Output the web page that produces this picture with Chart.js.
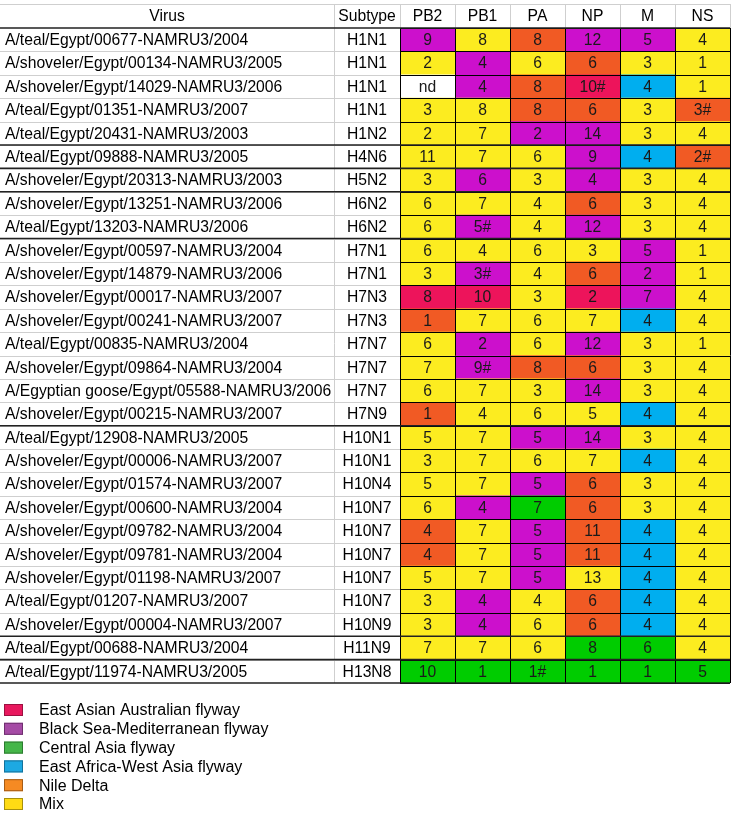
<!DOCTYPE html>
<html>
<head>
<meta charset="utf-8">
<script src="https://cdn.jsdelivr.net/npm/chart.js@4.4.0/dist/chart.umd.min.js"></script>
<style>
  html, body { margin: 0; padding: 0; background: #fff; }
  #wrap { width: 735px; height: 814px; }
</style>
</head>
<body>
<div id="wrap"><canvas id="flyways" width="735" height="814"></canvas></div>
<script>
// Gene segment origins of Egyptian wild bird influenza viruses

const viruses = [
  "A/teal/Egypt/00677-NAMRU3/2004",
  "A/shoveler/Egypt/00134-NAMRU3/2005",
  "A/shoveler/Egypt/14029-NAMRU3/2006",
  "A/teal/Egypt/01351-NAMRU3/2007",
  "A/teal/Egypt/20431-NAMRU3/2003",
  "A/teal/Egypt/09888-NAMRU3/2005",
  "A/shoveler/Egypt/20313-NAMRU3/2003",
  "A/shoveler/Egypt/13251-NAMRU3/2006",
  "A/teal/Egypt/13203-NAMRU3/2006",
  "A/shoveler/Egypt/00597-NAMRU3/2004",
  "A/shoveler/Egypt/14879-NAMRU3/2006",
  "A/shoveler/Egypt/00017-NAMRU3/2007",
  "A/shoveler/Egypt/00241-NAMRU3/2007",
  "A/teal/Egypt/00835-NAMRU3/2004",
  "A/shoveler/Egypt/09864-NAMRU3/2004",
  "A/Egyptian goose/Egypt/05588-NAMRU3/2006",
  "A/shoveler/Egypt/00215-NAMRU3/2007",
  "A/teal/Egypt/12908-NAMRU3/2005",
  "A/shoveler/Egypt/00006-NAMRU3/2007",
  "A/shoveler/Egypt/01574-NAMRU3/2007",
  "A/shoveler/Egypt/00600-NAMRU3/2004",
  "A/shoveler/Egypt/09782-NAMRU3/2004",
  "A/shoveler/Egypt/09781-NAMRU3/2004",
  "A/shoveler/Egypt/01198-NAMRU3/2007",
  "A/teal/Egypt/01207-NAMRU3/2007",
  "A/shoveler/Egypt/00004-NAMRU3/2007",
  "A/teal/Egypt/00688-NAMRU3/2004",
  "A/teal/Egypt/11974-NAMRU3/2005"
];

const subtypes = [
  "H1N1", "H1N1", "H1N1", "H1N1", "H1N2", "H4N6", "H5N2", "H6N2", "H6N2", "H7N1",
  "H7N1", "H7N3", "H7N3", "H7N7", "H7N7", "H7N7", "H7N9", "H10N1", "H10N1", "H10N4",
  "H10N7", "H10N7", "H10N7", "H10N7", "H10N7", "H10N9", "H11N9", "H13N8"
];

const segments = ["PB2", "PB1", "PA", "NP", "M", "NS"];

// cell labels (clade numbers) per segment
const pb2Text = ["9","2","nd","3","2","11","3","6","6","6","3","8","1","6","7","6","1","5","3","5","6","4","4","5","3","3","7","10"];
const pb1Text = ["8","4","4","8","7","7","6","7","5#","4","3#","10","7","2","9#","7","4","7","7","7","4","7","7","7","4","4","7","1"];
const paText  = ["8","6","8","8","2","6","3","4","4","6","4","3","6","6","8","3","6","5","6","5","7","5","5","5","4","6","6","1#"];
const npText  = ["12","6","10#","6","14","9","4","6","12","3","6","2","7","12","6","14","5","14","7","6","6","11","11","13","6","6","8","1"];
const mText   = ["5","3","4","3","3","4","3","3","3","5","2","7","4","3","3","3","4","3","4","3","3","4","4","4","4","4","6","1"];
const nsText  = ["4","1","1","3#","4","2#","4","4","4","1","1","4","4","1","4","4","4","4","4","4","4","4","4","4","4","4","4","5"];

// origin per cell: EAA east asian australian, BSM black sea-mediterranean,
// CA central asia, EAWA east africa-west asia, ND nile delta, MIX mix, NA not determined
const pb2Origin = ["BSM","MIX","NA","MIX","MIX","MIX","MIX","MIX","MIX","MIX","MIX","EAA","ND","MIX","MIX","MIX","ND","MIX","MIX","MIX","MIX","ND","ND","MIX","MIX","MIX","MIX","CA"];
const pb1Origin = ["MIX","BSM","BSM","MIX","MIX","MIX","BSM","MIX","BSM","MIX","BSM","EAA","MIX","BSM","BSM","MIX","MIX","MIX","MIX","MIX","BSM","MIX","MIX","MIX","BSM","BSM","MIX","CA"];
const paOrigin  = ["ND","MIX","ND","ND","BSM","MIX","MIX","MIX","MIX","MIX","MIX","MIX","MIX","MIX","ND","MIX","MIX","BSM","MIX","BSM","CA","BSM","BSM","BSM","MIX","MIX","MIX","CA"];
const npOrigin  = ["BSM","ND","EAA","ND","BSM","BSM","BSM","ND","BSM","MIX","ND","EAA","MIX","BSM","ND","BSM","MIX","BSM","MIX","ND","ND","ND","ND","MIX","ND","ND","CA","CA"];
const mOrigin   = ["BSM","MIX","EAWA","MIX","MIX","EAWA","MIX","MIX","MIX","BSM","BSM","BSM","EAWA","MIX","MIX","MIX","EAWA","MIX","EAWA","MIX","MIX","EAWA","EAWA","EAWA","EAWA","EAWA","CA","CA"];
const nsOrigin  = ["MIX","MIX","MIX","ND","MIX","ND","MIX","MIX","MIX","MIX","MIX","MIX","MIX","MIX","MIX","MIX","MIX","MIX","MIX","MIX","MIX","MIX","MIX","MIX","MIX","MIX","MIX","CA"];

const legendCodes = ["EAA", "BSM", "CA", "EAWA", "ND", "MIX"];
const legendLabels = [
  "East Asian Australian flyway",
  "Black Sea-Mediterranean flyway",
  "Central Asia flyway",
  "East Africa-West Asia flyway",
  "Nile Delta",
  "Mix"
];

const cellColors = {
  EAA: "#ED145B", BSM: "#CC10CC", CA: "#00CC00",
  EAWA: "#00AEEF", ND: "#F15A24", MIX: "#FCEC20", NA: "#FFFFFF"
};
const legendColors = {
  EAA: "#E8185E", BSM: "#A54BA5", CA: "#45B649",
  EAWA: "#1DA9E2", ND: "#F58A23", MIX: "#FFDB14"
};
const legendBorders = {
  EAA: "#9c1040", BSM: "#6e2f6e", CA: "#2d7a30",
  EAWA: "#14719a", ND: "#a65c16", MIX: "#a8900c"
};

const segText = [pb2Text, pb1Text, paText, npText, mText, nsText];
const segOrigin = [pb2Origin, pb1Origin, paOrigin, npOrigin, mOrigin, nsOrigin];

const FONT = '15.7px "Liberation Sans", Arial, sans-serif';
const LEGEND_FONT = '16px "Liberation Sans", Arial, sans-serif';
const TEXT_COL_SPLIT = 334;
const TABLE_TOP = 4;

// draws header, text columns, grid lines, cell labels and the legend
const tableDecor = {
  id: "tableDecor",
  afterDatasetsDraw(chart) {
    const ctx = chart.ctx;
    const area = chart.chartArea;
    const xs = chart.scales.x;
    const ys = chart.scales.y;
    const n = viruses.length;
    const rowH = (area.bottom - area.top) / n;
    const rowTop = (i) => area.top + i * rowH;

    ctx.save();
    ctx.font = FONT;
    ctx.textBaseline = "middle";

    // light grid for header and text columns
    ctx.strokeStyle = "#cfcfcf";
    ctx.lineWidth = 1;
    ctx.beginPath();
    ctx.moveTo(0, TABLE_TOP + 0.5);
    ctx.lineTo(area.right, TABLE_TOP + 0.5);
    for (let i = 1; i < n; i++) {
      const yy = Math.round(rowTop(i)) + 0.5;
      ctx.moveTo(0, yy);
      ctx.lineTo(area.left, yy);
    }
    ctx.moveTo(TEXT_COL_SPLIT + 0.5, TABLE_TOP);
    ctx.lineTo(TEXT_COL_SPLIT + 0.5, area.bottom);
    for (let k = 0; k <= segments.length; k++) {
      const xx = Math.round(xs.getPixelForValue(k)) + 0.5;
      ctx.moveTo(xx, TABLE_TOP);
      ctx.lineTo(xx, area.top);
    }
    ctx.stroke();

    // black grid over coloured cells
    ctx.strokeStyle = "#000";
    ctx.beginPath();
    for (let i = 0; i <= n; i++) {
      const yy = Math.round(rowTop(i)) + 0.5;
      ctx.moveTo(area.left, yy);
      ctx.lineTo(area.right, yy);
    }
    for (let k = 0; k <= segments.length; k++) {
      const xx = Math.round(xs.getPixelForValue(k)) + 0.5;
      ctx.moveTo(xx, area.top);
      ctx.lineTo(xx, area.bottom);
    }
    ctx.stroke();

    // dark lines: under header, between HA groups, table bottom
    ctx.strokeStyle = "#222";
    ctx.lineWidth = 1.6;
    ctx.beginPath();
    ctx.moveTo(0, area.top);
    ctx.lineTo(area.right, area.top);
    for (let i = 1; i < n; i++) {
      const prevH = subtypes[i - 1].split("N")[0];
      const curH = subtypes[i].split("N")[0];
      if (prevH !== curH) {
        ctx.moveTo(0, rowTop(i));
        ctx.lineTo(area.right, rowTop(i));
      }
    }
    ctx.moveTo(0, area.bottom);
    ctx.lineTo(area.right, area.bottom);
    ctx.stroke();

    // header labels
    ctx.fillStyle = "#000";
    ctx.textAlign = "center";
    const headY = (TABLE_TOP + area.top) / 2 + 1;
    ctx.fillText("Virus", TEXT_COL_SPLIT / 2, headY);
    ctx.fillText("Subtype", (TEXT_COL_SPLIT + area.left) / 2, headY);
    segments.forEach((seg, k) => {
      const cx = (xs.getPixelForValue(k) + xs.getPixelForValue(k + 1)) / 2;
      ctx.fillText(seg, cx, headY);
    });

    // virus names and subtypes
    viruses.forEach((name, i) => {
      const cy = ys.getPixelForValue(i) + 1;
      ctx.textAlign = "left";
      ctx.fillText(name, 5, cy);
      ctx.textAlign = "center";
      ctx.fillText(subtypes[i], (TEXT_COL_SPLIT + area.left) / 2, cy);
    });

    // cell labels
    ctx.fillStyle = "#1a1a1a";
    ctx.textAlign = "center";
    segments.forEach((seg, k) => {
      const meta = chart.getDatasetMeta(k);
      meta.data.forEach((bar, i) => {
        const cx = (bar.x + bar.base) / 2;
        ctx.fillText(segText[k][i], cx, bar.y + 1);
      });
    });

    // legend
    ctx.font = LEGEND_FONT;
    const legTop = area.bottom + 21;
    const legStep = 18.8;
    legendCodes.forEach((code, j) => {
      const top = legTop + j * legStep;
      ctx.fillStyle = legendColors[code];
      ctx.fillRect(4, top, 19, 12);
      ctx.strokeStyle = legendBorders[code];
      ctx.lineWidth = 1;
      ctx.strokeRect(4.5, top + 0.5, 18, 11);
      ctx.fillStyle = "#000";
      ctx.textAlign = "left";
      ctx.fillText(legendLabels[j], 39, top + 7);
    });

    ctx.restore();
  }
};

const datasets = segments.map((seg, k) => ({
  label: seg,
  data: viruses.map(() => 1),
  backgroundColor: segOrigin[k].map((code) => cellColors[code]),
  borderWidth: 0,
  barPercentage: 1,
  categoryPercentage: 1
}));

new Chart(document.getElementById("flyways"), {
  type: "bar",
  data: { labels: viruses, datasets },
  options: {
    indexAxis: "y",
    responsive: false,
    devicePixelRatio: 1,
    animation: false,
    layout: { padding: { left: 400, right: 5, top: 28, bottom: 131 } },
    plugins: {
      legend: { display: false },
      tooltip: { enabled: false }
    },
    scales: {
      x: { type: "linear", min: 0, max: 6, stacked: true, display: false },
      y: { type: "category", stacked: true, display: false, offset: true }
    }
  },
  plugins: [tableDecor]
});
</script>
</body>
</html>
